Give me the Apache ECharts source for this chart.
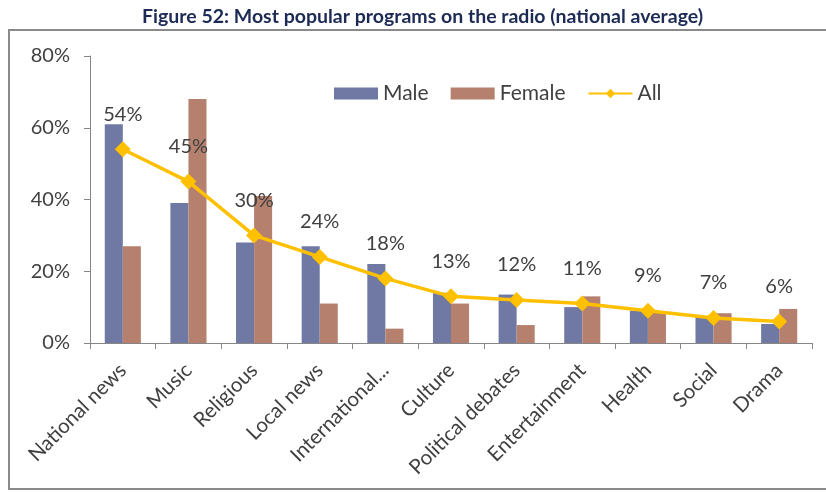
<!DOCTYPE html>
<html>
<head>
<meta charset="utf-8">
<script src="https://cdn.jsdelivr.net/npm/echarts@6/dist/echarts.min.js"></script>
<style>
  html, body { margin: 0; padding: 0; background: #fff; }
  #chart { width: 826px; height: 492px; }
</style>
</head>
<body>
<div id="chart"></div>
<script>
const categories = ['National news', 'Music', 'Religious', 'Local news', 'International...', 'Culture',
  'Political debates', 'Entertainment', 'Health', 'Social', 'Drama'];
const male = [61, 39, 28, 27, 22, 14, 13.5, 10, 9, 7.3, 5.3];
const female = [27, 68, 41, 11, 4, 11, 5, 13, 8.5, 8.3, 9.5];
const all = [54, 45, 30, 24, 18, 13, 12, 11, 9, 7, 6];
const yTicks = [0, 20, 40, 60, 80];

const font = 'Lato, "Open Sans", sans-serif';
const textGray = '#404040';

const chart = echarts.init(document.getElementById('chart'));

const option = {
  backgroundColor: '#fff',
  animation: false,
  title: {
    text: 'Figure 52: Most popular programs on the radio (national average)',
    left: 137,
    top: 2,
    textStyle: { fontFamily: font, fontWeight: 'bold', fontSize: 19.5, color: '#1c2a55' }
  },
  graphic: [{
    type: 'rect',
    shape: { x: 9, y: 30, width: 830, height: 459 },
    style: { fill: 'none', stroke: '#8a8a8a', lineWidth: 2 },
    z: -1
  }],
  legend: {
    left: 329,
    top: 78,
    itemWidth: 44,
    itemHeight: 12,
    itemGap: 22,
    textStyle: { fontFamily: font, fontSize: 21, color: textGray },
    data: [
      { name: 'Male', icon: 'rect' },
      { name: 'Female', icon: 'rect' },
      { name: 'All' }
    ]
  },
  grid: { left: 90, right: 14, top: 56, bottom: 149 },
  xAxis: {
    type: 'category',
    data: categories,
    axisLine: { lineStyle: { color: '#868686', width: 1 } },
    axisTick: { show: true, length: 6, lineStyle: { color: '#868686' } },
    axisLabel: {
      rotate: 45,
      interval: 0,
      margin: 24,
      fontFamily: font,
      fontSize: 20.5,
      color: textGray
    }
  },
  yAxis: {
    type: 'value',
    min: 0,
    max: 80,
    interval: 20,
    axisLine: { show: true, lineStyle: { color: '#868686', width: 1 } },
    axisTick: { show: true, length: 6, lineStyle: { color: '#868686' } },
    splitLine: { show: false },
    axisLabel: {
      margin: 20,
      fontFamily: font,
      fontSize: 20,
      color: textGray,
      formatter: v => (yTicks.includes(v) ? v + '%' : '')
    }
  },
  series: [
    {
      name: 'Male',
      type: 'bar',
      data: male,
      barGap: '0%',
      barCategoryGap: '45%',
      itemStyle: { color: '#7079a3' }
    },
    {
      name: 'Female',
      type: 'bar',
      data: female,
      itemStyle: { color: '#b5806e' }
    },
    {
      name: 'All',
      type: 'line',
      data: all,
      symbol: 'diamond',
      symbolSize: 16,
      lineStyle: { color: '#ffc000', width: 3.5 },
      itemStyle: { color: '#ffc000' },
      label: {
        show: true,
        position: 'top',
        distance: 17,
        fontFamily: font,
        fontSize: 20,
        color: textGray,
        formatter: p => p.value + '%'
      },
      z: 5
    }
  ]
};

chart.setOption(option);
</script>
</body>
</html>
